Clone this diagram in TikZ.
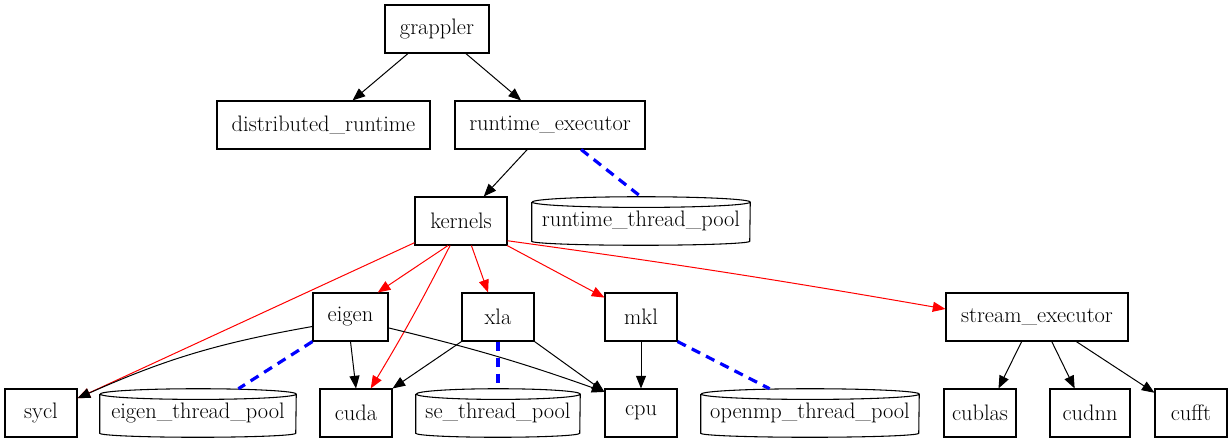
\documentclass[tikz,border=0pt]{standalone}
\usetikzlibrary{arrows.meta}
\begin{document}
\begin{tikzpicture}[x=0.75pt,y=-0.75pt,
  every node/.style={font=\fontsize{16.8}{20}\selectfont, inner sep=2pt},
  box/.style={draw, line width=0.8pt, minimum height=36pt},
  cylnode/.style={minimum height=36pt},
  cylline/.style={draw, line width=0.8pt},
  arr/.style={line width=0.75pt, -{Triangle[length=9.5pt,width=7.5pt]}},
  redarr/.style={arr, red},
  tie/.style={blue, line width=2.4pt, dash pattern=on 7pt off 5pt}]
\useasboundingbox (0,0) rectangle (1232,443);

\newcommand\cylout[2]{%
  \draw[cylline] ([yshift=-4pt]#1.north west) -- ([yshift=3pt]#1.south west)
    arc[start angle=180,end angle=360,x radius=#2,y radius=3pt]
    -- ([yshift=-4pt]#1.north east)
    arc[start angle=0,end angle=180,x radius=#2,y radius=4pt]
    arc[start angle=180,end angle=360,x radius=#2,y radius=4pt];}

\node[box, minimum width=78pt] (grappler) at (437,29) {grappler};
\node[box, minimum width=159.75pt] (distrt) at (323.5,125) {distributed\_runtime};
\node[box, minimum width=142.5pt] (rtexec) at (550,125) {runtime\_executor};
\node[box, minimum width=69pt] (kernels) at (461,221) {kernels};
\node[cylnode, minimum width=163.5pt] (rtpool) at (641,221) {runtime\_thread\_pool};
\node[box, minimum width=56.25pt] (eigen) at (350.5,317) {eigen};
\node[box, minimum width=54pt] (xla) at (498,317) {xla};
\node[box, minimum width=54pt] (mkl) at (641,317) {mkl};
\node[box, minimum width=136.5pt] (sexec) at (1037,317) {stream\_executor};
\node[box, minimum width=54pt] (sycl) at (41,413) {sycl};
\node[cylnode, minimum width=147pt] (eigenpool) at (198,413) {eigen\_thread\_pool};
\node[box, minimum width=54pt] (cuda) at (356,413) {cuda};
\node[cylnode, minimum width=123pt] (sepool) at (498,413) {se\_thread\_pool};
\node[box, minimum width=54pt] (cpu) at (641,413) {cpu};
\node[cylnode, minimum width=163.5pt] (omppool) at (810,413) {openmp\_thread\_pool};
\node[box, minimum width=54pt] (cublas) at (980,413) {cublas};
\node[box, minimum width=60pt] (cudnn) at (1090,413) {cudnn};
\node[box, minimum width=54pt] (cufft) at (1191,413) {cufft};

\cylout{rtpool}{81.75pt}
\cylout{eigenpool}{73.5pt}
\cylout{sepool}{61.5pt}
\cylout{omppool}{81.75pt}

\draw[arr] (grappler) -- (distrt);
\draw[arr] (grappler) -- (rtexec);
\draw[arr] (rtexec) -- (kernels);
\draw[tie] (rtexec) -- (rtpool.north);

\draw[redarr] (kernels.-118) -- (eigen.42);
\draw[redarr] (kernels.-67) -- (xla.112);
\draw[redarr] (kernels.-28) -- (mkl.152);
\draw[redarr] (kernels.-23.5) to[bend left=1] (sexec.175.6);
\draw[redarr] (kernels.-155.5) -- (sycl.22.6);
\draw[redarr] (kernels.-114.6) to[bend left=2] (cuda.59.7);

\draw[arr] (eigen.-166.5) to[bend right=7] (sycl.22.6);
\draw[tie] (eigen.south west) -- (eigenpool.31);
\draw[arr] (eigen.south) -- (cuda.north);
\draw[arr] (eigen.-16.3) to[bend left=3] (cpu.150.9);

\draw[arr] (xla.south west) -- (cuda.north east);
\draw[tie] (xla.south) -- (sepool.north);
\draw[arr] (xla.south east) -- (cpu.150.9);

\draw[arr] (mkl) -- (cpu);
\draw[tie] (mkl.south east) -- (omppool.149);

\draw[arr] (sexec.-122) -- (cublas.53);
\draw[arr] (sexec.-59.7) -- (cudnn.122);
\draw[arr] (sexec.-32.3) -- (cufft.151);
\end{tikzpicture}
\end{document}
